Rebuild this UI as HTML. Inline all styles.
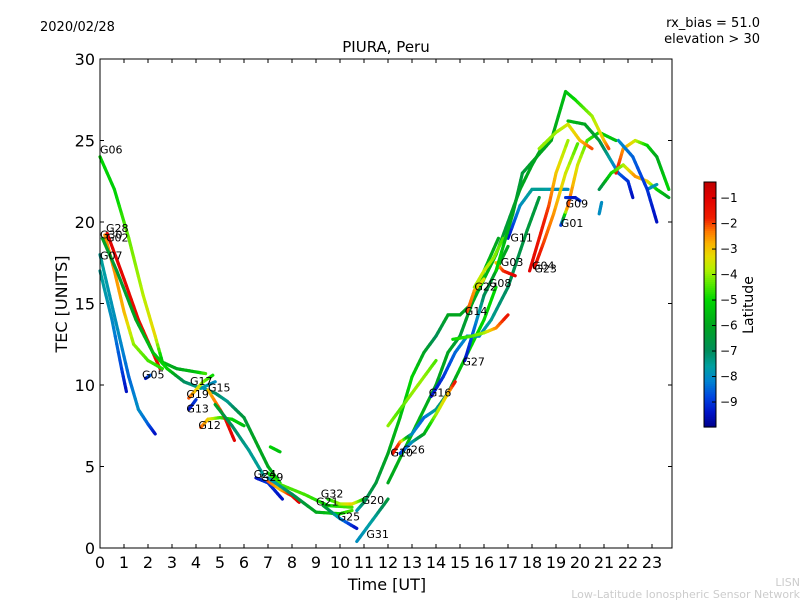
<!DOCTYPE html>
<html><head><meta charset="utf-8"><style>
body{margin:0;background:#fff;}
svg text{font-family:"DejaVu Sans","Liberation Sans",sans-serif;}
</style></head><body>
<svg id="c" width="800" height="600" xmlns="http://www.w3.org/2000/svg">
<rect width="800" height="600" fill="#fff"/>
<text x="40" y="31" font-size="13">2020/02/28</text>
<text x="760" y="27" font-size="13" text-anchor="end">rx_bias = 51.0</text>
<text x="760" y="43" font-size="13" text-anchor="end">elevation &gt; 30</text>
<text x="386" y="52" font-size="15" text-anchor="middle">PIURA, Peru</text>
<text x="387" y="590" font-size="16" text-anchor="middle">Time [UT]</text>
<text x="67" y="304" font-size="16" text-anchor="middle" transform="rotate(-90 67 304)">TEC [UNITS]</text>
<text x="800" y="586" font-size="11" fill="#ccc" text-anchor="end">LISN</text>
<text x="800" y="598" font-size="11" fill="#ccc" text-anchor="end">Low-Latitude Ionospheric Sensor Network</text>
<g id="plot"></g>
<g id="cb"></g>
</svg>
<script>
const xTicks=[0,1,2,3,4,5,6,7,8,9,10,11,12,13,14,15,16,17,18,19,20,21,22,23];
const yTicks=[0,5,10,15,20,25,30];
const cbTicks=[-1,-2,-3,-4,-5,-6,-7,-8,-9];
const names=["G06","G28","G30","G02","G07","G05","G17","G19","G13","G12","G15","G24","G29","G32","G21","G25","G20","G31","G10","G26","G16","G27","G14","G22","G08","G03","G11","G04","G23","G01","G09"];
const labelT=[0,0.25,0,0.25,0,1.75,3.75,3.6,3.6,4.1,4.5,6.4,6.7,9.2,9.0,9.9,10.9,11.1,12.1,12.6,13.7,15.1,15.2,15.6,16.2,16.7,17.1,18.0,18.1,19.2,19.4];
const labelV=[24.2,19.4,19.0,18.8,17.7,10.4,10.0,9.2,8.3,7.3,9.6,4.3,4.1,3.1,2.6,1.7,2.7,0.6,5.6,5.8,9.3,11.2,14.3,15.8,16.0,17.3,18.8,17.1,16.9,19.7,20.9];
const tracks=[
[[0,24,-5],[0.6,22,-5.2],[1.2,19,-4.3],[1.8,15.5,-3.8],[2.3,13,-3.2],[2.6,11.4,-5.5],[3.2,11,-6],[4,10.8,-5.5],[4.4,10.7,-4.5]],
[[0.3,19.3,-1],[1,16.5,-1.2],[1.6,14,-1.3],[2.2,12,-1.4],[2.5,11,-1.2]],
[[0.2,19.2,-2.5],[0.6,17,-2.5],[1,14.5,-2.8],[1.4,12.5,-4],[2,11.5,-4.5],[2.6,11,-4.8]],
[[0.1,19,-6],[0.7,17,-6.5],[1.5,14,-6],[2.2,12,-5.5],[2.8,11,-5],[3.5,10.2,-7],[4.2,9.8,-7.5],[4.8,10.2,-8]],
[[0,18,-7.5],[0.4,15.5,-7.8],[0.8,13,-8],[1.2,10.5,-8.5],[1.6,8.5,-8],[2,7.6,-8.5],[2.3,7,-9.5]],
[[0,17,-7.5],[0.5,14,-8],[0.9,11,-8.8],[1.1,9.6,-9.5]],
[[1.9,10.4,-9.5],[2.1,10.6,-8.5]],
[[3.7,9.2,-2],[4,9.7,-3],[4.3,10.2,-4],[4.7,10.6,-5]],
[[3.7,8.5,-9.5],[4,9.1,-9]],
[[4.2,7.4,-2],[4.5,7.9,-3],[5,8,-4.5],[5.5,7.9,-5],[6,7.5,-5.5]],
[[4.3,9.8,-8],[4.8,9.5,-7],[5.3,9,-7.5],[6,8,-6.5],[6.5,6.5,-6],[7,5,-6],[7.5,4,-5]],
[[4.5,9.7,-3],[5,8.5,-2],[5.2,8,-1.5],[5.6,6.6,-1]],
[[4.8,8.8,-6],[5.5,7.5,-7],[6.2,6,-7.5],[6.8,4.5,-7.5]],
[[7.1,6.2,-5],[7.5,5.9,-5.5]],
[[6.5,4.3,-9.5],[7,4,-9],[7.6,3,-9.5]],
[[7,4.1,-2],[7.5,3.6,-3],[8,3.2,-1.5],[8.3,2.8,-1]],
[[7,4.6,-5],[7.5,3.9,-4.5],[8.5,3.3,-4.5],[9.5,2.6,-5],[10.5,2.5,-4.5]],
[[7,4.3,-8],[8,3.3,-7],[9,2.2,-6],[10,2.1,-5],[10.5,2.3,-4.5]],
[[9.3,2.6,-6],[10,1.8,-8],[10.7,1.2,-9.5]],
[[9.5,3,-5],[10,2.7,-4],[10.5,2.7,-3],[11,3,-5]],
[[10.7,2.3,-8],[11,2.8,-7],[11.5,4,-6.5],[12,5.8,-6],[12.5,8,-5.5],[13,10.5,-5],[13.5,12,-6],[14,13,-7],[14.5,14.3,-6],[15,14.3,-6],[15.5,15,-6],[16,16.5,-5.5],[16.5,18,-6],[17,20,-6.5],[17.5,22,-6],[18,23.5,-6],[18.5,24.8,-6]],
[[10.7,0.4,-8],[11.5,2,-7.5],[12,3,-6.5]],
[[12,4,-6],[13,7,-5.5],[14,10,-6],[14.5,12,-6],[15,13,-6.5],[15.5,15,-6],[16,17,-5.5],[16.6,19,-6]],
[[12.2,5.8,-1.5],[12.5,6.5,-2],[13,7,-8],[13.5,8,-8.5],[14,8.5,-7.5],[14.5,9.5,-7],[15,11,-5.5],[15.5,12.5,-5],[16,14,-5],[16.5,16,-5]],
[[12.5,5.8,-9],[13,6.5,-8],[13.5,7,-6],[14,8.2,-4],[14.5,9.5,-3],[14.8,10.2,-1.5]],
[[12,7.5,-4],[12.5,8.5,-4.5],[13,9.5,-4],[13.5,10.5,-4],[14,11.5,-4.5]],
[[13.8,9.3,-9.5],[14.3,10.5,-9],[14.8,12,-8.5],[15.3,13,-8],[15.8,13,-8],[16.3,14,-7.5],[17,16,-7],[17.8,19.5,-6.5],[18.3,21.5,-6.5]],
[[15.2,11.5,-9.5],[15.6,13.5,-8.5],[16,15.5,-7],[16.5,17,-6],[17,18.5,-6]],
[[15.3,14.5,-2],[15.6,15.8,-2.5],[16,16.5,-3.5]],
[[14.7,12.8,-5],[15.5,13,-4.5],[16,13.2,-4],[16.5,13.5,-2.5],[17,14.3,-1.5]],
[[15.6,16,-4],[16,17,-3.5],[16.4,17.8,-4],[16.8,19,-4.5]],
[[16.5,17.5,-3],[16.8,17,-2],[17.3,16.7,-1]],
[[17,19,-9.5],[17.5,21,-8],[18,22,-7.5],[18.5,22,-7.5],[19,22,-8],[19.5,22,-8]],
[[17.9,17,-1],[18.3,19,-1.5],[18.7,21,-2],[19,23,-3],[19.5,25,-4]],
[[18.1,17.2,-1.2],[18.5,18.8,-2],[18.9,20.5,-2.5],[19.4,23,-3.5],[19.9,24.8,-4.5]],
[[19.2,19.8,-9.5],[19.5,21,-2],[19.9,23.5,-3.5],[20.3,25,-4.5],[20.8,25.5,-5],[21.5,25,-5.5]],
[[19.4,21.5,-9],[19.8,21.5,-9.5],[20,21.3,-9]],
[[16.5,17,-5],[17.2,20.5,-6],[17.6,23,-6.5],[18.2,24,-6],[18.8,25,-6],[19.4,28,-5.5],[19.8,27.5,-5],[20.5,26.5,-4],[21,25,-3],[21.2,24.5,-2]],
[[18.3,24.5,-4],[19,25.5,-4],[19.5,26,-3.5],[20,25,-3],[20.5,24.5,-2]],
[[19.5,26.2,-5.5],[20.2,26,-6],[20.8,25,-6.5],[21.2,24,-7.5],[21.6,23,-8.5],[22,22.5,-9],[22.2,21.5,-9.5]],
[[21.5,23,-1.5],[21.8,24.5,-2.5],[22.3,25,-3.5],[22.8,24.7,-5],[23.2,24,-6],[23.7,22,-5]],
[[20.8,22,-7],[21.3,23,-5],[21.8,23.5,-4],[22.3,22.8,-2.5],[22.8,22.5,-3],[23.2,22,-5],[23.7,21.5,-6]],
[[22.8,22,-8],[23.2,22.3,-7.8]],
[[21.6,25,-8],[22.2,24,-8.5],[22.8,22,-9],[23.2,20,-9.5]],
[[20.8,20.5,-8],[20.9,21.2,-8]]
];
const X=t=>100+24*t, Y=v=>548-v*16.3;
const vmin=-9.98,vmax=-0.37;
const stops=[[-0.37,[190,0,0]],[-1,[225,0,0]],[-1.8,[240,30,0]],[-2.3,[255,120,0]],[-2.8,[250,180,0]],[-3.3,[230,220,0]],[-3.8,[180,240,0]],[-4.3,[100,235,0]],[-5,[0,215,0]],[-6,[0,165,30]],[-7,[0,140,90]],[-7.6,[0,160,160]],[-8.2,[0,130,210]],[-8.8,[0,70,225]],[-9.4,[0,20,200]],[-9.98,[0,0,140]]];
function jet(v){v=Math.max(vmin,Math.min(vmax,v));
 for(let i=0;i<stops.length-1;i++){const [a,ca]=stops[i],[b,cb2]=stops[i+1];
  if(v<=a&&v>=b){const u=(a-v)/(a-b);return `rgb(${ca.map((c,k)=>Math.round(c+(cb2[k]-c)*u)).join(',')})`;}}
 return 'rgb(0,0,140)';}
const NS='http://www.w3.org/2000/svg';
function mk(tag,at,p){const e=document.createElementNS(NS,tag);for(const k in at)e.setAttribute(k,at[k]);(p||plot).appendChild(e);return e;}
const plot=document.getElementById('plot'),cb=document.getElementById('cb');
tracks.forEach((tr,i)=>{const g=mk('g',{});
 
 
 for(let j=0;j<tr.length-1;j++){const a=tr[j],b=tr[j+1];
  const n=6;for(let s=0;s<n;s++){const u0=s/n,u1=(s+1)/n;
   const lat=a[2]+(b[2]-a[2])*(s+0.5)/n;
   mk('line',{x1:X(a[0]+(b[0]-a[0])*u0),y1:Y(a[1]+(b[1]-a[1])*u0),x2:X(a[0]+(b[0]-a[0])*u1),y2:Y(a[1]+(b[1]-a[1])*u1),stroke:jet(lat),'stroke-width':3.2,'stroke-linecap':'round'},g);}}
});
names.forEach((n,i)=>{const t=mk('text',{x:X(labelT[i]),y:Y(labelV[i]),'font-size':11,fill:'#000'});t.textContent=n;
 
 });
mk('rect',{x:100,y:59,width:572,height:489,fill:'none',stroke:'#000','stroke-width':1});
xTicks.forEach(t=>{mk('line',{x1:X(t),y1:548,x2:X(t),y2:544,stroke:'#000'});mk('line',{x1:X(t),y1:59,x2:X(t),y2:63,stroke:'#000'});
 const l=mk('text',{x:X(t),y:568,'font-size':16,'text-anchor':'middle'});l.textContent=t;
 
 });
yTicks.forEach(v=>{mk('line',{x1:100,y1:Y(v),x2:104,y2:Y(v),stroke:'#000'});mk('line',{x1:672,y1:Y(v),x2:668,y2:Y(v),stroke:'#000'});
 const l=mk('text',{x:95,y:Y(v)+6,'font-size':16,'text-anchor':'end'});l.textContent=v;
 
 });
const cbTop=182,cbBot=427,CY=v=>cbTop+(vmax-v)/(vmax-vmin)*(cbBot-cbTop);
for(let i=0;i<120;i++){const v0=vmax-(vmax-vmin)*i/120;mk('rect',{x:704,y:cbTop+(cbBot-cbTop)*i/120,width:12,height:(cbBot-cbTop)/120+0.6,fill:jet(v0-(vmax-vmin)/240)},cb);}
const cbr=mk('rect',{x:704,y:cbTop,width:12,height:cbBot-cbTop,fill:'none',stroke:'#000'},cb);


cbTicks.forEach(v=>{mk('line',{x1:712,y1:CY(v),x2:716,y2:CY(v),stroke:'#000'},cb);
 const l=mk('text',{x:720,y:CY(v)+4,'font-size':12},cb);l.textContent='\u2212'+(-v);
 
 });
const ct=mk('text',{x:753,y:305,'font-size':14,'text-anchor':'middle',transform:'rotate(-90 753 305)'},cb);ct.textContent='Latitude';


</script>
</body></html>
